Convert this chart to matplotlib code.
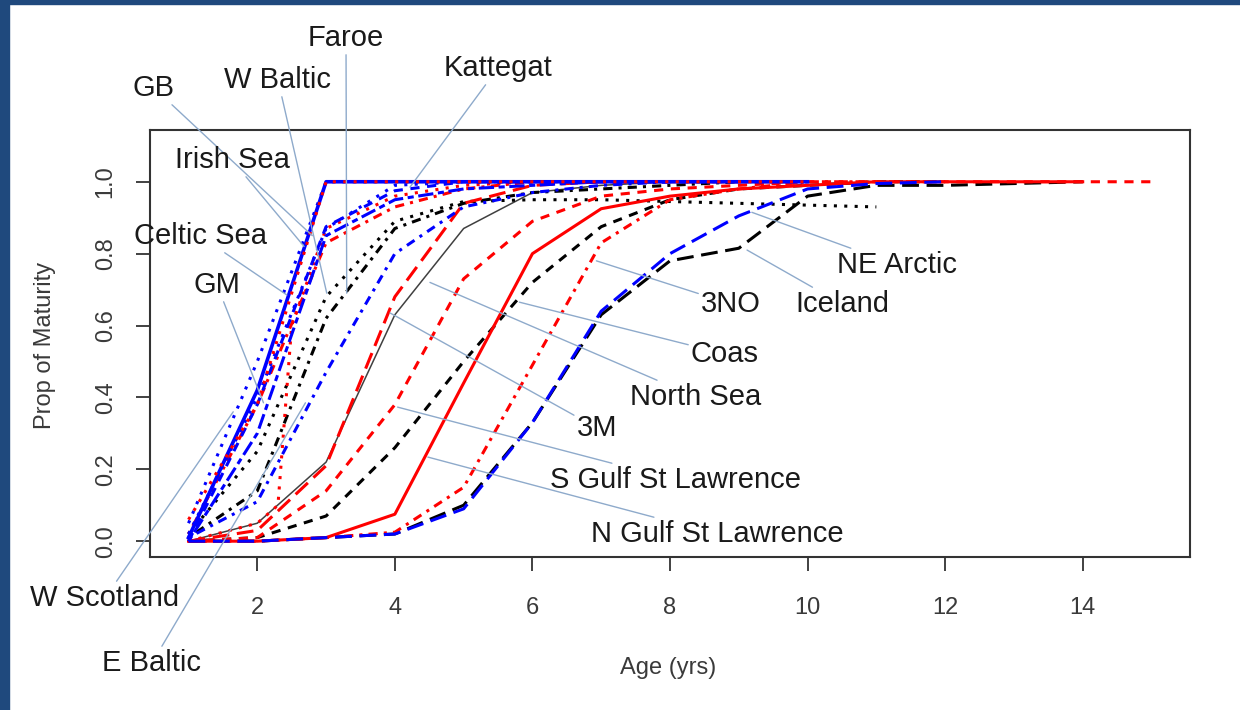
import matplotlib
matplotlib.use('Agg')
import matplotlib.pyplot as plt
from matplotlib.patches import Rectangle

plt.rcParams['font.family'] = ['Liberation Sans', 'DejaVu Sans']

# maturity ogives (age in years, proportion mature)
ages = [1, 2, 3, 4, 5, 6, 7, 8, 9, 10, 11, 12, 13, 14, 15]

blue_solid = [0.01, 0.42, 1.0, 1.0, 1.0, 1.0, 1.0, 1.0, 1.0, 1.0]
blue_dot_left = [0.05, 0.50, 1.0, 1.0, 1.0, 1.0, 1.0, 1.0]
blue_dash = [0.0, 0.38, 0.875, 0.975, 1.0, 1.0, 1.0, 1.0, 1.0]
blue_dotdash = [0.01, 0.11, 0.47, 0.80, 0.93, 0.97, 0.99, 1.0]
blue_dot_top = [0.02, 0.40, 0.87, 0.99, 1.0, 1.0]
blue_twodash = [0.0, 0.30, 0.85, 0.95, 0.98, 0.99, 1.0]
blue_longdash = [0.0, 0.0, 0.01, 0.02, 0.09, 0.33, 0.64, 0.80, 0.905, 0.98, 0.995, 1.0]

red_dot_top = [0.06, 0.38, 1.0, 1.0, 1.0, 1.0, 1.0, 1.0, 1.0, 1.0]
red_dotdash_left = [0.02, 0.38, 0.83, 0.93, 0.98, 1.0, 1.0]
red_dot_steep_ages = [1, 2, 2.3, 2.5, 3, 4, 5, 6]
red_dot_steep = [0.0, 0.05, 0.10, 0.60, 0.87, 0.96, 0.99, 1.0]
red_longdash = [0.0, 0.03, 0.21, 0.68, 0.94, 0.99, 1.0, 1.0, 1.0, 1.0]
red_dash = [0.0, 0.01, 0.14, 0.38, 0.73, 0.89, 0.96, 0.98, 0.99, 1.0, 1.0, 1.0, 1.0, 1.0, 1.0]
red_solid = [0.0, 0.0, 0.01, 0.075, 0.44, 0.80, 0.925, 0.96, 0.98, 0.99, 1.0, 1.0, 1.0, 1.0]
red_dotdash_right = [0.0, 0.0, 0.01, 0.025, 0.15, 0.49, 0.83, 0.95, 0.98, 1.0, 1.0]

black_dot = [0.02, 0.25, 0.68, 0.89, 0.945, 0.95, 0.95, 0.945, 0.94, 0.935, 0.93]
black_dotdash = [0.01, 0.14, 0.62, 0.87, 0.94, 0.97, 0.98, 0.99, 1.0]
grey_solid = [0.0, 0.05, 0.22, 0.63, 0.87, 0.97, 0.99, 1.0, 1.0]
black_dash = [0.0, 0.01, 0.07, 0.26, 0.50, 0.72, 0.875, 0.95, 0.98, 0.99, 1.0, 1.0]
black_longdash = [0.0, 0.0, 0.01, 0.02, 0.10, 0.33, 0.63, 0.78, 0.815, 0.96, 0.99, 0.99, 0.995, 1.0]

# stock labels: name, point on the curve (age, prop), text centre in pixels
stock_names = ['Faroe', 'W Baltic', 'GB', 'Kattegat', 'Irish Sea', 'Celtic Sea', 'GM',
               'W Scotland', 'E Baltic', 'NE Arctic', 'Iceland', '3NO', 'Coas',
               'North Sea', '3M', 'S Gulf St Lawrence', 'N Gulf St Lawrence']
label_tips = [(3.30, 0.69), (3.01, 0.69), (2.80, 0.85), (4.22, 0.985), (2.68, 0.82),
              (2.43, 0.685), (2.09, 0.385), (1.65, 0.36), (2.70, 0.385), (9.19, 0.915),
              (9.12, 0.81), (6.93, 0.78), (5.81, 0.665), (4.51, 0.72), (3.93, 0.635),
              (4.04, 0.373), (4.48, 0.234)]
label_pos = [(346, 38), (278, 80), (154, 88), (498, 68), (232, 160), (200, 236), (217, 285),
             (105, 598), (152, 663), (897, 265), (842, 304), (731, 304), (725, 354),
             (696, 397), (597, 428), (676, 480), (717, 534)]

W, H = 1240, 710
BLUE = '#0000ff'
RED = '#ff0000'
dotted = (0, (1, 2.4))
dashed = (0, (3, 2.5))
dotdash = (0, (1, 2, 3, 2))
longdash = (0, (5.5, 2.5))
twodash = (0, (2, 1.5, 5, 1.5))

fig = plt.figure(figsize=(W / 100, H / 100), dpi=100)
fig.patches.append(Rectangle((0, 1 - 4 / H), 1, 4 / H, transform=fig.transFigure,
                             color='#1f497d', zorder=0))
fig.patches.append(Rectangle((0, 0), 9 / W, 1, transform=fig.transFigure,
                             color='#1f497d', zorder=0))

ax = fig.add_axes([150 / W, 1 - 557 / H, 1040 / W, 427 / H])

def draw(vals, color, ls, lw=2.2, x=None):
    if x is None:
        x = ages[:len(vals)]
    ax.plot(x, vals, color=color, linestyle=ls, lw=lw)

draw(black_longdash, 'black', longdash)
draw(black_dash, 'black', dashed)
draw(grey_solid, '#404040', '-', lw=1.1)
draw(black_dotdash, 'black', dotdash)
draw(black_dot, 'black', dotted)
draw(red_dotdash_right, RED, dotdash)
draw(red_solid, RED, '-')
draw(red_dash, RED, dashed)
draw(red_longdash, RED, longdash)
draw(red_dot_steep, RED, dotted, x=red_dot_steep_ages)
draw(red_dotdash_left, RED, dotdash)
draw(blue_longdash, BLUE, longdash)
draw(blue_twodash, BLUE, twodash)
draw(blue_dot_top, BLUE, dotted)
draw(blue_dotdash, BLUE, dotdash)
draw(blue_dash, BLUE, dashed)
draw(blue_dot_left, BLUE, dotted)
draw(blue_solid, BLUE, '-', lw=2.6)
draw(red_dot_top, RED, dotted)

ax.set_xlim(0.44, 15.56)
ax.set_ylim(-0.044, 1.144)
ax.set_xticks([2, 4, 6, 8, 10, 12, 14])
ax.set_yticks([0, 0.2, 0.4, 0.6, 0.8, 1.0])
ax.set_yticklabels(['0.0', '0.2', '0.4', '0.6', '0.8', '1.0'])
for s in ax.spines.values():
    s.set_color('#333333')
    s.set_linewidth(1.5)
ax.tick_params(length=10, width=1.3, color='#333333', labelsize=17, labelcolor='#3a3a3a')
ax.tick_params(axis='x', pad=19)
ax.tick_params(axis='y', pad=14, labelrotation=90)
for t in ax.get_yticklabels():
    t.set_va('center')

for name, tip, pos in zip(stock_names, label_tips, label_pos):
    ax.annotate(name, xy=tip, xycoords='data',
                xytext=(pos[0] / W, 1 - pos[1] / H), textcoords='figure fraction',
                ha='center', va='center', fontsize=21, color='#1a1a1a',
                arrowprops=dict(arrowstyle='-', color='#8eaacb', lw=1.0,
                                shrinkA=0, shrinkB=0),
                annotation_clip=False)

fig.text(668 / W, 1 - 668 / H, 'Age (yrs)', ha='center', va='center',
         fontsize=17, color='#3a3a3a')
fig.text(45 / W, 1 - 345 / H, 'Prop of Maturity', ha='center', va='center',
         rotation=90, fontsize=17, color='#3a3a3a')

fig.savefig('out.png', dpi=100)
